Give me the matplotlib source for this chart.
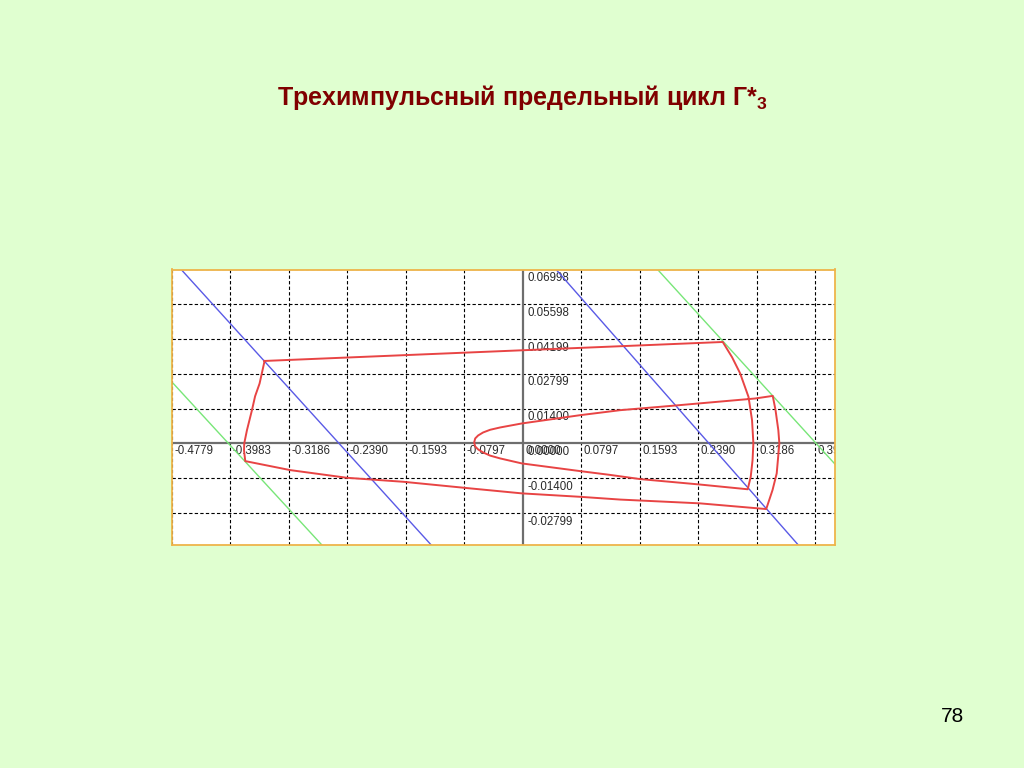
#!/usr/bin/env python3

import matplotlib
matplotlib.use('Agg')
import matplotlib.pyplot as plt
import matplotlib.transforms as mtransforms


BG_GREEN = '#e0ffd0'
BORDER = '#eeb44a'
RED = '#e84444'
BLUE = '#5a5ae6'
GREEN = '#78e678'

title = 'Трехимпульсный предельный цикл Г*'
page_number = '78'

# axis ticks (grid lines) and their labels, as on the picture
x_ticks = [-0.4779, -0.3983, -0.3186, -0.2390, -0.1593, -0.0797,
           0.0, 0.0797, 0.1593, 0.2390, 0.3186, 0.3982]
x_labels = ['-0.4779', '-0.3983', '-0.3186', '-0.2390', '-0.1593', '-0.0797',
            '0.0000', '0.0797', '0.1593', '0.2390', '0.3186', '0.3982']
y_ticks = [0.06998, 0.05598, 0.04199, 0.02799, 0.01400, 0.0, -0.01400, -0.02799]
y_labels = ['0.06998', '0.05598', '0.04199', '0.02799', '0.01400',
            '0.00000', '-0.01400', '-0.02799']
x_range = (-0.4779, 0.4252)
y_range = (-0.04086, 0.06998)

# limit cycle, A -> B -> C -> nose -> D -> E -> F -> A
cycle_x = [-0.3518, 0.2723,
           0.2850, 0.2959, 0.3074, 0.3122, 0.3140, 0.3129, 0.3104, 0.3063,
           0.2391, 0.1597, 0.1189, 0.0780, -0.0014,
           -0.0309, -0.0445, -0.0541, -0.0609, -0.0649,
           -0.0663,
           -0.0649, -0.0609, -0.0541, -0.0445, -0.0309,
           -0.0014, 0.0780, 0.1325, 0.2019, 0.3163,
           0.3404,
           0.3442, 0.3480, 0.3494, 0.3458, 0.3401, 0.3315,
           0.2414, 0.1325, 0.0780, -0.0014, -0.0718, -0.1626, -0.2396, -0.3168,
           -0.3781,
           -0.3798, -0.3795, -0.3758, -0.3690, -0.3647, -0.3586, -0.3518]
cycle_y = [0.03319, 0.04082,
           0.03468, 0.02825, 0.01872, 0.00936, 0.00012, -0.00671, -0.01342, -0.01844,
           -0.01647, -0.01434, -0.01266, -0.01113, -0.00804,
           -0.00603, -0.00490, -0.00362, -0.00241, -0.00121,
           0.00040,
           0.00201, 0.00321, 0.00442, 0.00550, 0.00643,
           0.00804, 0.01137, 0.01338, 0.01511, 0.01808,
           0.01913,
           0.01338, 0.00534, 0.00000, -0.01205, -0.01876, -0.02640,
           -0.02411, -0.02258, -0.02147, -0.02009, -0.01808, -0.01543, -0.01382, -0.01073,
           -0.00711,
           -0.00280, 0.00000, 0.00534, 0.01338, 0.01900, 0.02411, 0.03319]

# switching lines (two points each, clipped by the axes)
blue_lines = [([-0.4643, -0.1248], [0.06963, -0.04086]),
              ([0.0463, 0.3752], [0.06963, -0.04086])]
green_lines = [([-0.4761, -0.2737], [0.02411, -0.04086]),
               ([0.1846, 0.4252], [0.06963, -0.00832])]


def draw_grid(ax):
    for x in x_ticks:
        if x != 0.0:
            ax.axvline(x, color='black', lw=0.8, ls=(0, (3, 2)), zorder=1)
    for y in y_ticks:
        if y != 0.0:
            ax.axhline(y, color='black', lw=0.8, ls=(0, (3, 2)), zorder=1)
    ax.axvline(0, color='#6e6e6e', lw=1.6, zorder=2)
    ax.axhline(0, color='#6e6e6e', lw=1.6, zorder=2)


def draw_labels(fig, ax):
    shift = mtransforms.offset_copy(ax.transData, fig=fig, x=2.5, y=-1.5, units='dots')
    for x, lab in zip(x_ticks, x_labels):
        ax.text(x, 0, lab, transform=shift, ha='left', va='top', fontsize=8.3,
                family='Liberation Sans', color='#2a2a2a', clip_on=True, zorder=3)
    # y labels sit a little right of and below the x labels (they overlap at 0)
    shift = mtransforms.offset_copy(ax.transData, fig=fig, x=4.5, y=-2.5, units='dots')
    for y, lab in zip(y_ticks, y_labels):
        ax.text(0, y, lab, transform=shift, ha='left', va='top', fontsize=8.3,
                family='Liberation Sans', color='#2a2a2a', clip_on=True, zorder=3)


def main():
    fig = plt.figure(figsize=(10.24, 7.68), dpi=100, facecolor=BG_GREEN)
    ax = fig.add_axes([172 / 1024, 1 - 545 / 768, (835 - 172) / 1024, (545 - 269.5) / 768])
    ax.set_facecolor('white')
    ax.set_xlim(*x_range)
    ax.set_ylim(*y_range)
    ax.set_xticks([])
    ax.set_yticks([])
    for sp in ax.spines.values():
        sp.set_color(BORDER)
        sp.set_linewidth(1.3)
        sp.set_zorder(6)

    draw_grid(ax)
    draw_labels(fig, ax)

    for xs, ys in blue_lines:
        ax.plot(xs, ys, color=BLUE, lw=1.0, zorder=4)
    for xs, ys in green_lines:
        ax.plot(xs, ys, color=GREEN, lw=1.0, zorder=4)
    ax.plot(cycle_x, cycle_y, color=RED, lw=1.4, zorder=5, solid_joinstyle='round')

    plt.rcParams['mathtext.fontset'] = 'custom'
    plt.rcParams['mathtext.rm'] = 'Liberation Sans:bold'
    fig.text(522 / 1024, 1 - 98 / 768, title + r'$_\mathrm{3}$', ha='center', va='center',
             fontsize=18, fontweight='bold', family='Liberation Sans', color='#800000')
    fig.text(952 / 1024, 1 - 716 / 768, page_number, ha='center', va='center',
             fontsize=15, family='Liberation Sans', color='black')

    fig.savefig('out.png', dpi=100, facecolor=BG_GREEN)


if __name__ == '__main__':
    main()
